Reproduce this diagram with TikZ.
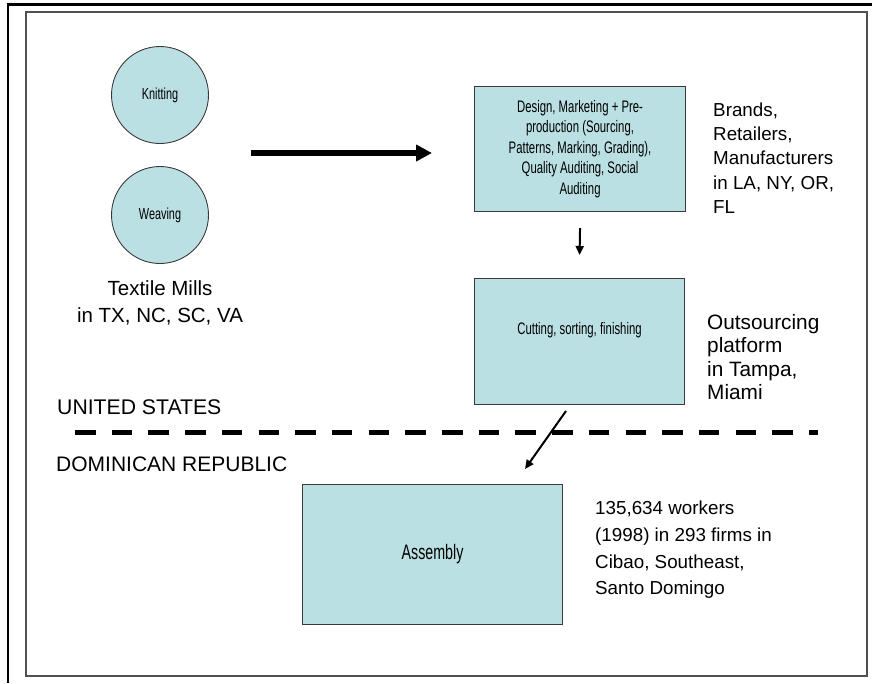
\documentclass[tikz,border=0pt]{standalone}
\usepackage{fontspec}
\setmainfont{Liberation Sans}
\newfontfamily\agency[FakeStretch=0.68]{Liberation Sans}
\usetikzlibrary{arrows.meta}
\definecolor{boxfill}{HTML}{BBE0E3}
\definecolor{framegray}{HTML}{505050}
\definecolor{edgegray}{HTML}{3A3A3A}
\begin{document}
\begin{tikzpicture}[x=1pt,y=-1pt,
  procbox/.style={draw=edgegray, line width=1.1pt, fill=boxfill, inner sep=0pt, anchor=north west, align=center},
  millcircle/.style={circle, draw=edgegray, line width=0.9pt, fill=boxfill, inner sep=0pt, minimum size=97pt, font=\agency\fontsize{16}{18}\selectfont},
  smalltxt/.style={font=\agency\fontsize{16.7}{20.5}\selectfont},
  label/.style={inner sep=0pt, align=left, anchor=west, font=\fontsize{18.8}{24.4}\selectfont},
  thinarrow/.style={line width=2pt, -{Triangle[length=9pt,width=8pt]}},
  bigarrow/.style={line width=6pt, -{Triangle[length=16pt,width=16pt]}},
  border/.style={dash pattern=on 20.5pt off 16.2pt, line width=5pt}
]
\useasboundingbox (0,0) rectangle (872,683);
% page frame
\draw[black, line width=2.2pt] (8,683) -- (8,4.5) -- (872,4.5);
\draw[framegray, line width=1.4pt] (26,12) rectangle (867,676);

% mills
\node[millcircle] (knit) at (160,95) {Knitting};
\node[millcircle] (weave) at (160,215) {Weaving};
\node[label, anchor=center, align=center, font=\fontsize{20.5}{27}\selectfont] (mills) at (160,303) {Textile Mills\\in TX, NC, SC, VA};

% design box
\node[procbox, smalltxt, minimum width=211pt, minimum height=125pt] (design) at (474,86)
  {Design, Marketing + Pre-\\production (Sourcing,\\Patterns, Marking, Grading),\\Quality Auditing, Social\\Auditing};
\node[label] (brands) at (713,158) {Brands,\\Retailers,\\Manufacturers\\in LA, NY, OR,\\FL};

% cutting box
\node[procbox, minimum width=210pt, minimum height=126pt] (cut) at (474,278) {};
\node[smalltxt, inner sep=0pt] (cuttxt) at ([yshift=11pt]cut.center) {Cutting, sorting, finishing};
\node[label, font=\fontsize{20.8}{23.5}\selectfont] (outs) at (707,357) {Outsourcing\\platform\\in Tampa,\\Miami};

% border
\node[label, font=\fontsize{21.2}{24}\selectfont] (us) at (57,407) {UNITED STATES};
\coordinate (bl) at (75,432);
\coordinate (br) at (818,432);
\draw[border] (bl) -- (br);
\node[label, font=\fontsize{21}{24}\selectfont] (dr) at (56,464) {DOMINICAN REPUBLIC};

% assembly
\node[procbox, minimum width=260pt, minimum height=140pt, font=\agency\fontsize{21}{24}\selectfont] (asm) at (302,484) {Assembly};
\node[label, font=\fontsize{18.8}{26.7}\selectfont] (workers) at (595,550) {135,634 workers\\(1998) in 293 firms in\\Cibao, Southeast,\\Santo Domingo};

% connectors
\coordinate (a1s) at (251,153);
\coordinate (a1e) at (432,153);
\draw[bigarrow] (a1s) -- (a1e);
\draw[thinarrow] ([yshift=-16pt]design.south) -- ([yshift=23pt]cut.north);
\coordinate (a3s) at (566,411);
\coordinate (a3e) at (525,469);
\draw[thinarrow] (a3s) -- (a3e);
\end{tikzpicture}
\end{document}
